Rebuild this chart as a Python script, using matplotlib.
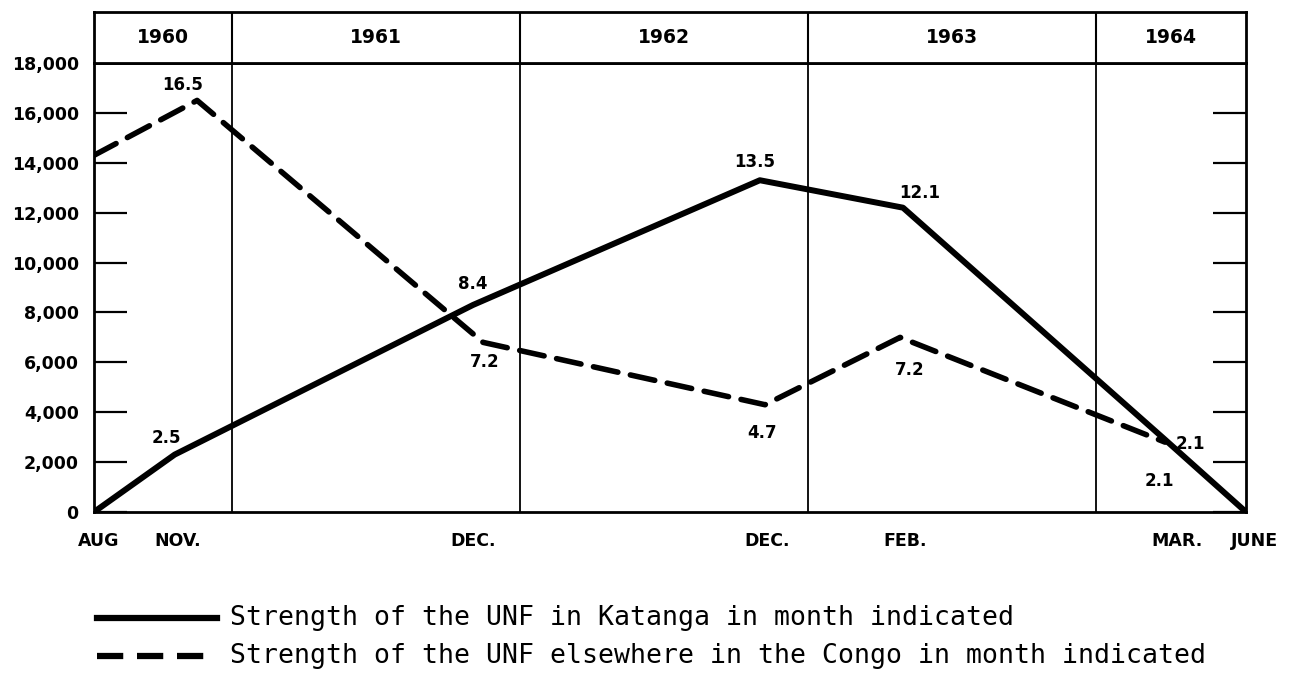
import matplotlib
matplotlib.use("Agg")
from matplotlib import pyplot as plt
from matplotlib.lines import Line2D

# x values are positions, in fractional years
katanga_x = [1960.52, 1960.80, 1961.836, 1962.832, 1963.329, 1964.239, 1964.52]
katanga_y = [0, 2300, 8300, 13300, 12200, 2900, 0]
katanga_lbl = ["", "2.5", "8.4", "13.5", "12.1", "2.1", ""]

other_x = [1960.52, 1960.878, 1961.871, 1962.850, 1963.319, 1964.239]
other_y = [14300, 16500, 6800, 4300, 7000, 2800]
other_lbl = ["", "16.5", "7.2", "4.7", "7.2", "2.1"]

years = ["1960", "1961", "1962", "1963", "1964"]
year_edges = [1960.52, 1961, 1962, 1963, 1964, 1964.52]

month_x = [1960.537, 1960.812, 1961.836, 1962.857, 1963.336, 1964.28, 1964.548]
month_lbl = ["AUG", "NOV.", "DEC.", "DEC.", "FEB.", "MAR.", "JUNE"]

yticks = [0, 2000, 4000, 6000, 8000, 10000, 12000, 14000, 16000, 18000]
ytick_lbl = ["0", "2,000", "4,000", "6,000", "8,000", "10,000", "12,000",
             "14,000", "16,000", "18,000"]

legend_lbl = ["Strength of the UNF in Katanga in month indicated",
              "Strength of the UNF elsewhere in the Congo in month indicated"]

# label offsets in pixels from each point
katanga_off = [(0, 0), (-8, 17), (0, 21), (-5, 18), (17, 15), (-6, -41), (0, 0)]
other_off = [(0, 0), (-14, 15), (2, -20), (-3, -28), (10, -33), (25, -2)]

W, H = 1298, 673
fig = plt.figure(figsize=(W / 100, H / 100), dpi=100)
fig.patch.set_facecolor("white")

left, right, top, bot = 94, 1246, 63, 512
ax = fig.add_axes([left / W, 1 - bot / H, (right - left) / W, (bot - top) / H])
hx = fig.add_axes([left / W, 1 - top / H, (right - left) / W, (top - 12) / H])

ax.set_xlim(year_edges[0], year_edges[-1])
ax.set_ylim(0, 18000)
for s in ax.spines.values():
    s.set_linewidth(2)
for yr in year_edges[1:-1]:
    ax.axvline(yr, color="black", lw=1.3)

ax.plot(katanga_x, katanga_y, color="black", lw=4.3, solid_joinstyle="round",
        solid_capstyle="round", zorder=3)
ax.plot(other_x, other_y, color="black", lw=4.0, dashes=(4.5, 2.3),
        dash_capstyle="round", zorder=3)

lblfont = dict(fontsize=12, fontweight="bold", ha="center", va="center")
for x, y, t, o in zip(katanga_x, katanga_y, katanga_lbl, katanga_off):
    if t:
        ax.annotate(t, (x, y), xytext=o, textcoords="offset pixels", **lblfont)
for x, y, t, o in zip(other_x, other_y, other_lbl, other_off):
    if t:
        ax.annotate(t, (x, y), xytext=o, textcoords="offset pixels", **lblfont)

ax.set_xticks([])
ax.set_yticks(yticks)
ax.set_yticklabels(ytick_lbl, fontsize=12.5, fontweight="bold")
ax.tick_params(axis="y", direction="in", length=24, width=1.6, pad=11,
               left=True, right=True)

for x, t in zip(month_x, month_lbl):
    ax.annotate(t, (x, 0), xycoords=("data", "axes fraction"), xytext=(0, -27),
                textcoords="offset pixels", ha="center", va="center_baseline",
                fontsize=12.5, fontweight="bold", annotation_clip=False)

# year header row
hx.set_xlim(year_edges[0], year_edges[-1])
hx.set_ylim(0, 1)
hx.set_xticks([])
hx.set_yticks([])
for s in hx.spines.values():
    s.set_linewidth(2)
for yr in year_edges[1:-1]:
    hx.axvline(yr, color="black", lw=1.5)
for i, t in enumerate(years):
    cx = (year_edges[i] + year_edges[i + 1]) / 2
    hx.text(cx, 0.5, t, ha="center", va="center", fontsize=13.5, fontweight="bold")

# legend drawn below the chart
leg_y = [618, 656]
styles = [dict(lw=4.5), dict(lw=4.5, dashes=(4.2, 2.2))]
for yy, t, st in zip(leg_y, legend_lbl, styles):
    fy = 1 - yy / H
    fig.add_artist(Line2D([97 / W, 217 / W], [fy, fy], color="black", **st))
    fig.text(230 / W, fy, t, ha="left", va="center", fontsize=19.1,
             family="DejaVu Sans Mono")

fig.savefig("out.png", dpi=100)
